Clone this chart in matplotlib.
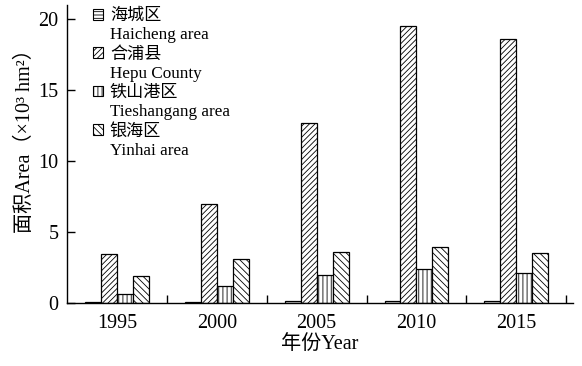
import matplotlib
matplotlib.use("Agg")
import matplotlib.pyplot as plt
from matplotlib.patches import Patch
import numpy as np

plt.rcParams['font.family'] = ['Liberation Serif', 'Noto Sans CJK SC']
plt.rcParams['hatch.linewidth'] = 0.6

# Data (10^3 hm2)
years = ["1995", "2000", "2005", "2010", "2015"]
haicheng = [0.05, 0.05, 0.15, 0.15, 0.15]
hepu = [3.45, 6.95, 12.7, 19.55, 18.6]
tieshangang = [0.63, 1.2, 2.0, 2.4, 2.1]
yinhai = [1.9, 3.1, 3.6, 3.95, 3.5]

names_cn = ["海城区", "合浦县", "铁山港区", "银海区"]
names_en = ["Haicheng area", "Hepu County", "Tieshangang area", "Yinhai area"]
hatches = ["-----", "//////", "||||", "\\\\\\\\\\"]

fig = plt.figure(figsize=(5.82, 3.66), dpi=100)
ax = fig.add_axes([0.115, 0.172, 0.87, 0.814])

x = np.arange(len(years))
width = 0.16
series = [haicheng, hepu, tieshangang, yinhai]
for k, values in enumerate(series):
    ax.bar(x + (k - 1.5) * width, values, width, color="white",
           edgecolor="black", linewidth=0.9, hatch=hatches[k])

ax.set_xlim(-0.5, 4.57)
ax.set_ylim(0, 21)
ax.set_xticks(x)
ax.set_xticklabels(years)
ax.set_xticks(x + 0.5, minor=True)                                  # ticks between groups
ax.tick_params(axis="x", which="major", length=0, pad=8, labelsize=14.5)
ax.tick_params(axis="x", which="minor", direction="in", length=6, width=1)
ax.set_yticks([0, 5, 10, 15, 20])
ax.tick_params(axis="y", direction="in", length=6, width=1, pad=6, labelsize=14.5)

ax.spines["top"].set_visible(False)
ax.spines["right"].set_visible(False)
ax.spines["left"].set_linewidth(1)
ax.spines["bottom"].set_linewidth(1)

ax.set_xlabel("年份Year", fontsize=14.5, labelpad=1)
ax.set_ylabel("面积Area（×10³ hm²）", fontsize=14.5)
ax.yaxis.set_label_coords(-0.064, 0.56)

# legend: Chinese name with patch, English name below without patch
handles, labels = [], []
for k in range(4):
    handles.append(Patch(facecolor="white", edgecolor="black", linewidth=0.8, hatch=hatches[k]))
    labels.append(names_cn[k])
    handles.append(Patch(visible=False))
    labels.append(names_en[k])
ax.legend(handles, labels, loc="upper left", bbox_to_anchor=(0.051, 0.99),
          frameon=False, fontsize=12.3, handlelength=0.6, handleheight=0.6,
          handletextpad=0.4, labelspacing=0.19, borderpad=0, borderaxespad=0)

fig.savefig("out.png", dpi=100)
